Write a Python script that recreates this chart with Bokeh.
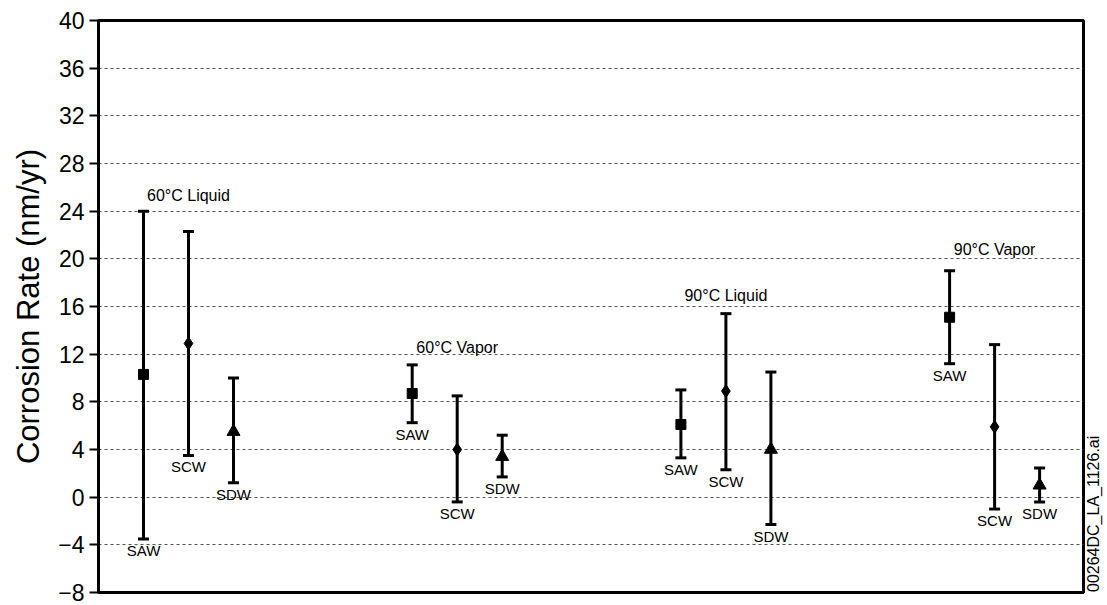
import math
from bokeh.plotting import figure
from bokeh.layouts import row
from bokeh.models import Range1d, FixedTicker, ColumnDataSource
from bokeh.core.properties import value
from bokeh.embed import file_html
from bokeh.resources import INLINE

# Test environments and specimen types
groups = ["60°C Liquid", "60°C Vapor", "90°C Liquid", "90°C Vapor"]
samples = ["SAW", "SCW", "SDW"]
markers = ["square", "diamond", "triangle"]

# Mean corrosion rate (nm/yr) per specimen type, one entry per environment
mean_saw = [10.3, 8.7, 6.1, 15.1]
mean_scw = [12.9, 4.0, 8.9, 5.9]
mean_sdw = [5.5, 3.4, 4.0, 1.0]

# Upper and lower bounds of the error bars
upper_saw = [24.0, 11.1, 9.0, 19.0]
upper_scw = [22.3, 8.5, 15.4, 12.8]
upper_sdw = [10.0, 5.2, 10.5, 2.45]

lower_saw = [-3.5, 6.25, 3.3, 11.2]
lower_scw = [3.5, -0.4, 2.3, -1.0]
lower_sdw = [1.2, 1.7, -2.3, -0.4]

# Height at which each environment caption sits
group_label_y = [25.3, 12.6, 16.9, 20.8]

y_ticks = [-8, -4, 0, 4, 8, 12, 16, 20, 24, 28, 32, 36, 40]
y_tick_labels = ["−8", "−4", "0", "4", "8", "12", "16", "20", "24", "28", "32", "36", "40"]

file_tag = "00264DC_LA_1126.ai"

FONT = "Liberation Sans"
TOP, BOTTOM = 20, 13

means = [mean_saw, mean_scw, mean_sdw]
uppers = [upper_saw, upper_scw, upper_sdw]
lowers = [lower_saw, lower_scw, lower_sdw]

GROUP_STEP = 268.7
SERIES_STEP = 45.0
FIRST = 45.0


def xpos(g, s):
    return FIRST + g * GROUP_STEP + s * SERIES_STEP


p = figure(
    width=1085, height=605,
    x_range=Range1d(0, 985), y_range=Range1d(-8, 40),
    x_axis_location=None,
    output_backend="svg", toolbar_location=None,
    min_border_left=98, min_border_right=2,
    min_border_top=TOP, min_border_bottom=BOTTOM,
    background_fill_color="white", border_fill_color="white",
)

p.outline_line_color = "black"
p.outline_line_width = 3
p.outline_line_alpha = 1.0

p.xgrid.visible = False
p.ygrid.ticker = FixedTicker(ticks=y_ticks)
p.ygrid.grid_line_color = "#555555"
p.ygrid.grid_line_dash = "3 3"
p.ygrid.grid_line_width = 1

ax = p.yaxis[0]
ax.ticker = FixedTicker(ticks=y_ticks)
ax.major_label_overrides = {t: lab for t, lab in zip(y_ticks, y_tick_labels)}
ax.major_label_text_font = FONT
ax.major_label_text_font_size = "23px"
ax.major_label_text_color = "black"
ax.major_label_standoff = 5
ax.major_tick_out = 9
ax.major_tick_in = 0
ax.major_tick_line_width = 2
ax.major_tick_line_color = "black"
ax.minor_tick_line_color = None
ax.axis_line_color = "black"
ax.axis_line_width = 3
ax.axis_label = "Corrosion Rate (nm/yr)"
ax.axis_label_text_font = FONT
ax.axis_label_text_font_size = "31px"
ax.axis_label_text_font_style = "normal"
ax.axis_label_text_color = "black"
ax.axis_label_standoff = 9

for s, name in enumerate(samples):
    xs = [xpos(g, s) for g in range(len(groups))]
    src = ColumnDataSource(dict(
        x=xs, mean=means[s], upper=uppers[s], lower=lowers[s],
        label=[name] * len(groups),
    ))
    # error bar stem
    p.segment(x0="x", y0="lower", x1="x", y1="upper", source=src,
              line_color="black", line_width=3)
    # caps
    p.scatter(x="x", y="upper", source=src, marker="dash", size=11,
              line_color="black", line_width=3)
    p.scatter(x="x", y="lower", source=src, marker="dash", size=11,
              line_color="black", line_width=3)
    # mean marker
    msize = {"square": 10, "diamond": 13, "triangle": 13}[markers[s]]
    p.scatter(x="x", y="mean", source=src, marker=markers[s], size=msize,
              fill_color="black", line_color="black", line_width=1)
    # specimen label below the lower cap
    p.text(x="x", y="lower", text="label", source=src,
           text_font=value(FONT), text_font_size="15px",
           text_align="center", text_baseline="top", y_offset=3,
           text_color="black")

# environment captions, centred over the middle bar of each group
cap_src = ColumnDataSource(dict(
    x=[xpos(g, 1) for g in range(len(groups))],
    y=group_label_y,
    text=groups,
))
p.text(x="x", y="y", text="text", source=cap_src,
       text_font=value(FONT), text_font_size="16px",
       text_align="center", text_baseline="middle", text_color="black")

# narrow strip on the right carrying the file tag
tag = figure(
    width=22, height=605,
    x_range=Range1d(0, 22), y_range=Range1d(-8, 40),
    x_axis_location=None, y_axis_location=None,
    output_backend="svg", toolbar_location=None,
    min_border_left=0, min_border_right=0,
    min_border_top=TOP, min_border_bottom=BOTTOM,
    background_fill_color="white", border_fill_color="white",
)
tag.outline_line_color = None
tag.grid.visible = False
tag.text(x=[8], y=[-1.4], text=[file_tag], angle=math.pi / 2,
         text_font=value(FONT), text_font_size="16px",
         text_align="center", text_baseline="middle", text_color="black")

layout = row(p, tag, spacing=0)
open("out.html", "w").write(file_html(layout, INLINE))
